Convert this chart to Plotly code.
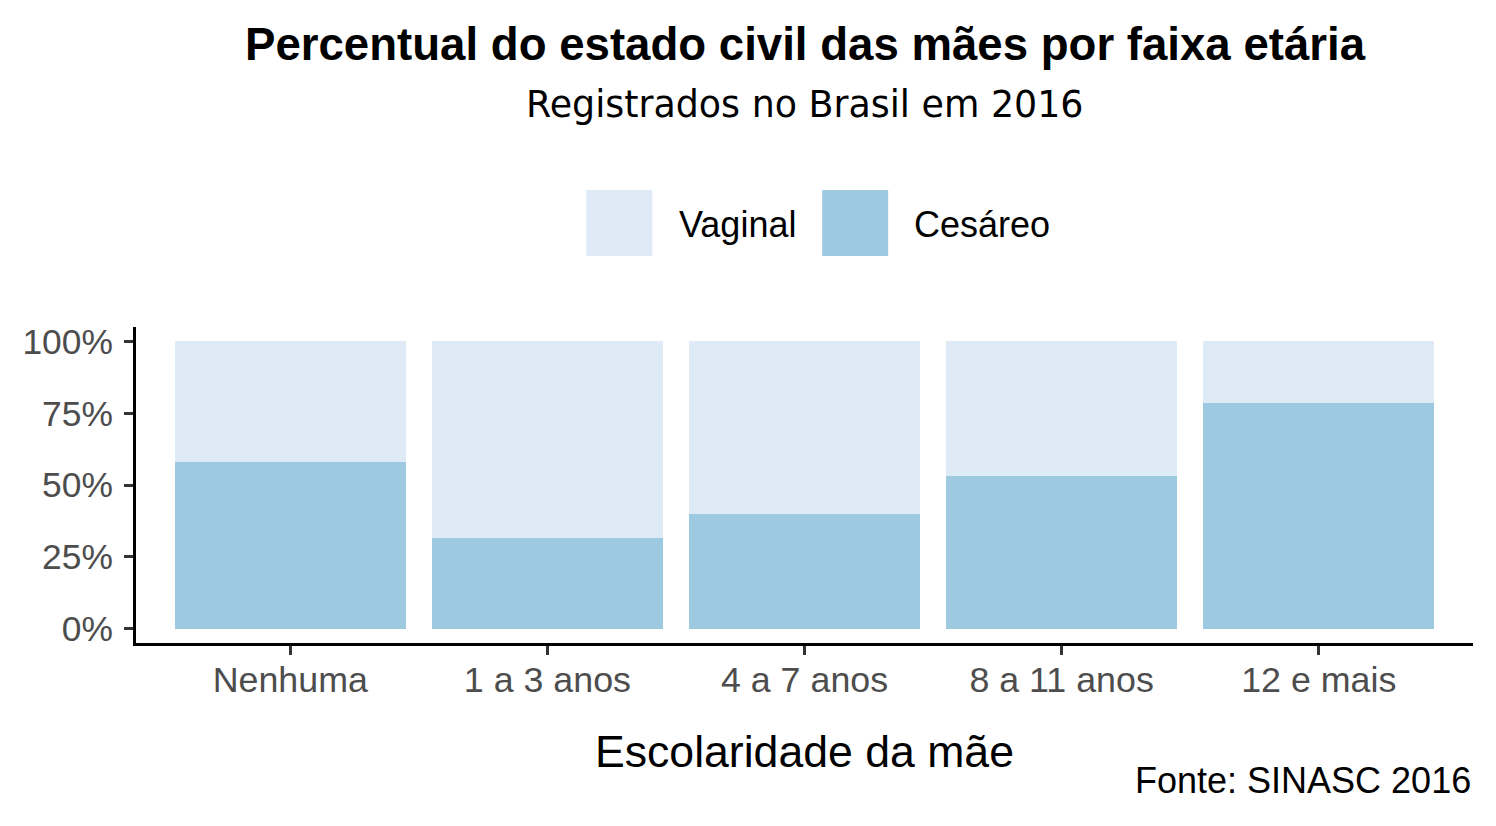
import plotly.graph_objects as go

# ---- data ----
categories = ["Nenhuma", "1 a 3 anos", "4 a 7 anos", "8 a 11 anos", "12 e mais"]
cesareo = [0.580, 0.316, 0.399, 0.531, 0.785]
vaginal = [0.420, 0.684, 0.601, 0.469, 0.215]
tick_vals = [0, 0.25, 0.5, 0.75, 1.0]
tick_text = ["0%", "25%", "50%", "75%", "100%"]

title_text = "<b>Percentual do estado civil das mães por faixa etária</b>"
subtitle_text = "Registrados no Brasil em 2016"
xaxis_title = "Escolaridade da mãe"
caption_text = "Fonte: SINASC 2016"

COL_VAG = "#DEEBF7"
COL_CES = "#9ECAE1"

# page body has an 8px offset; positions below are in screenshot pixels
OFF = 8
W, H = 1496, 826
PLOT_X0, PLOT_X1 = 135.6, 1473
PLOT_Y0, PLOT_Y1 = 327, 643
L = PLOT_X0 - OFF
R = W - (PLOT_X1 - OFF)
T = PLOT_Y0 - OFF
B = H - (PLOT_Y1 - OFF)
PW = PLOT_X1 - PLOT_X0
PH = PLOT_Y1 - PLOT_Y0


def px_x(px):
    return (px - PLOT_X0) / PW


def px_y(py):
    return (PLOT_Y1 - py) / PH


fig = go.Figure()
fig.add_trace(go.Bar(x=categories, y=cesareo, name="Cesáreo",
                     marker=dict(color=COL_CES, line=dict(width=0)), showlegend=False))
fig.add_trace(go.Bar(x=categories, y=vaginal, name="Vaginal",
                     marker=dict(color=COL_VAG, line=dict(width=0)), showlegend=False))

FONT = "Liberation Sans, Arial, sans-serif"

annotations = [
    dict(text=title_text, x=px_x(805), y=px_y(45), xref="paper", yref="paper",
         xanchor="center", yanchor="middle", showarrow=False,
         font=dict(family=FONT, size=45.6, color="black")),
    dict(text=subtitle_text, x=px_x(805), y=px_y(104), xref="paper", yref="paper",
         xanchor="center", yanchor="middle", showarrow=False,
         font=dict(family="DejaVu Sans, sans-serif", size=36.4, color="black")),
    dict(text=xaxis_title, x=px_x(804), y=px_y(751), xref="paper", yref="paper",
         xanchor="center", yanchor="middle", showarrow=False,
         font=dict(family=FONT, size=44.6, color="black")),
    dict(text=caption_text, x=px_x(1473), y=px_y(780), xref="paper", yref="paper",
         xanchor="right", yanchor="middle", showarrow=False,
         font=dict(family=FONT, size=36, color="black")),
    dict(text="Vaginal", x=px_x(677), y=px_y(224), xref="paper", yref="paper",
         xanchor="left", yanchor="middle", showarrow=False,
         font=dict(family=FONT, size=36, color="black")),
    dict(text="Cesáreo", x=px_x(912), y=px_y(224), xref="paper", yref="paper",
         xanchor="left", yanchor="middle", showarrow=False,
         font=dict(family=FONT, size=36, color="black")),
]

shapes = [
    dict(type="rect", xref="paper", yref="paper", x0=px_x(586), x1=px_x(652),
         y0=px_y(256), y1=px_y(190), fillcolor=COL_VAG, line=dict(width=0)),
    dict(type="rect", xref="paper", yref="paper", x0=px_x(822), x1=px_x(888),
         y0=px_y(256), y1=px_y(190), fillcolor=COL_CES, line=dict(width=0)),
]

fig.update_layout(
    width=W, height=H,
    margin=dict(l=L, r=R, t=T, b=B, pad=0),
    barmode="stack", bargap=0.1,
    plot_bgcolor="white", paper_bgcolor="white",
    showlegend=False,
    annotations=annotations, shapes=shapes,
    font=dict(family=FONT),
)
fig.update_xaxes(
    range=[-0.6, 4.6], showline=True, linecolor="black", linewidth=3,
    ticks="outside", ticklen=9, tickwidth=3, tickcolor="#333333",
    ticklabelstandoff=-6,
    tickfont=dict(family=FONT, size=35.8, color="#4D4D4D"),
    showgrid=False, zeroline=False, fixedrange=True,
)
fig.update_yaxes(
    range=[-0.05, 1.05], showline=True, linecolor="black", linewidth=3,
    ticks="outside", ticklen=9, tickwidth=3, tickcolor="#333333",
    tickvals=tick_vals, ticktext=tick_text, ticklabelstandoff=4,
    tickfont=dict(family=FONT, size=35.4, color="#4D4D4D"),
    showgrid=False, zeroline=False, fixedrange=True,
)

fig.write_html("out.html")
